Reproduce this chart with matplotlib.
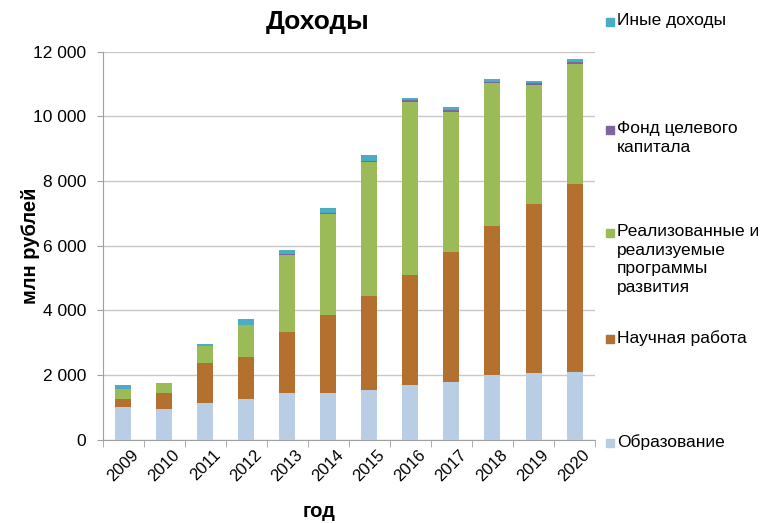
import numpy as np
import matplotlib.pyplot as plt
import matplotlib.transforms as mtransforms
from matplotlib.patches import Rectangle

plt.rcParams['font.family'] = ['Liberation Sans', 'DejaVu Sans']

# data (mln rubles)
years = ['2009', '2010', '2011', '2012', '2013', '2014', '2015', '2016', '2017', '2018', '2019', '2020']
education = [1030, 950, 1130, 1270, 1440, 1460, 1550, 1700, 1800, 2010, 2060, 2110]
science = [240, 500, 1240, 1290, 1910, 2410, 2910, 3400, 4020, 4590, 5220, 5810]
programs = [290, 300, 540, 980, 2370, 3110, 4130, 5360, 4330, 4430, 3700, 3710]
endowment = [0, 0, 0, 0, 20, 30, 40, 40, 40, 40, 40, 40]
other = [130, 0, 50, 190, 140, 150, 170, 80, 90, 80, 90, 110]

series = [education, science, programs, endowment, other]
labels = ['Образование', 'Научная работа',
          'Реализованные и\nреализуемые\nпрограммы\nразвития',
          'Фонд целевого\nкапитала', 'Иные доходы']
colors = ['#B9CDE5', '#B3702E', '#9BBB59', '#8064A2', '#4BACC6']

fig = plt.figure(figsize=(7.6, 5.23), dpi=100)
ax = fig.add_axes([0.135, 0.159, 0.648, 0.742])

x = np.arange(len(years))
bottom = np.zeros(len(years))
for vals, col in zip(series, colors):
    ax.bar(x, vals, 0.39, bottom=bottom, color=col, zorder=3)
    bottom += np.array(vals)

ax.set_xlim(-0.5, len(years) - 0.5)
ax.set_ylim(0, 12000)
ax.set_yticks(range(0, 12001, 2000))
ax.set_yticklabels(['0', '2 000', '4 000', '6 000', '8 000', '10 000', '12 000'], fontsize=12.5)
ax.set_xticks(x)
ax.set_xticklabels(years, rotation=45, fontsize=12, ha='center', va='top')
# nudge the slanted year labels a bit to the left
shift = mtransforms.ScaledTranslation(-7 / 100, 0, fig.dpi_scale_trans)
for lbl in ax.get_xticklabels():
    lbl.set_transform(lbl.get_transform() + shift)
ax.tick_params(axis='x', length=0, pad=5)
ax.set_xticks(np.arange(-0.5, len(years)), minor=True)
ax.tick_params(axis='x', which='minor', length=5, color='#A0A0A0')
ax.tick_params(axis='y', length=4, color='#A0A0A0', pad=8)

ax.grid(axis='y', color='#C8C8C8', linewidth=1, zorder=0)
for s in ['top', 'right']:
    ax.spines[s].set_visible(False)
ax.spines['left'].set_color('#A0A0A0')
ax.spines['bottom'].set_color('#A0A0A0')

fig.text(0.418, 0.957, 'Доходы', fontsize=19, fontweight='bold', ha='center', va='center')
fig.text(31 / 760, 0.53, 'млн рублей', fontsize=14.5, fontweight='bold',
         rotation=90, ha='center', va='center')
fig.text(0.42, 0.022, 'год', fontsize=14.5, fontweight='bold', ha='center', va='center')

# legend entries spread down the right side, as in the source chart
legend_y = [22, 130, 233, 339, 443]
for lab, col, yp in zip(labels[::-1], colors[::-1], legend_y):
    fy = 1 - yp / 523
    fig.patches.append(Rectangle((606 / 760, fy - 4 / 523), 8 / 760, 8 / 523,
                                 transform=fig.transFigure, color=col))
    fig.text(617 / 760, fy + 9 / 523, lab, fontsize=12.5, ha='left', va='top',
             linespacing=1.3)

fig.savefig('out.png', dpi=100)
